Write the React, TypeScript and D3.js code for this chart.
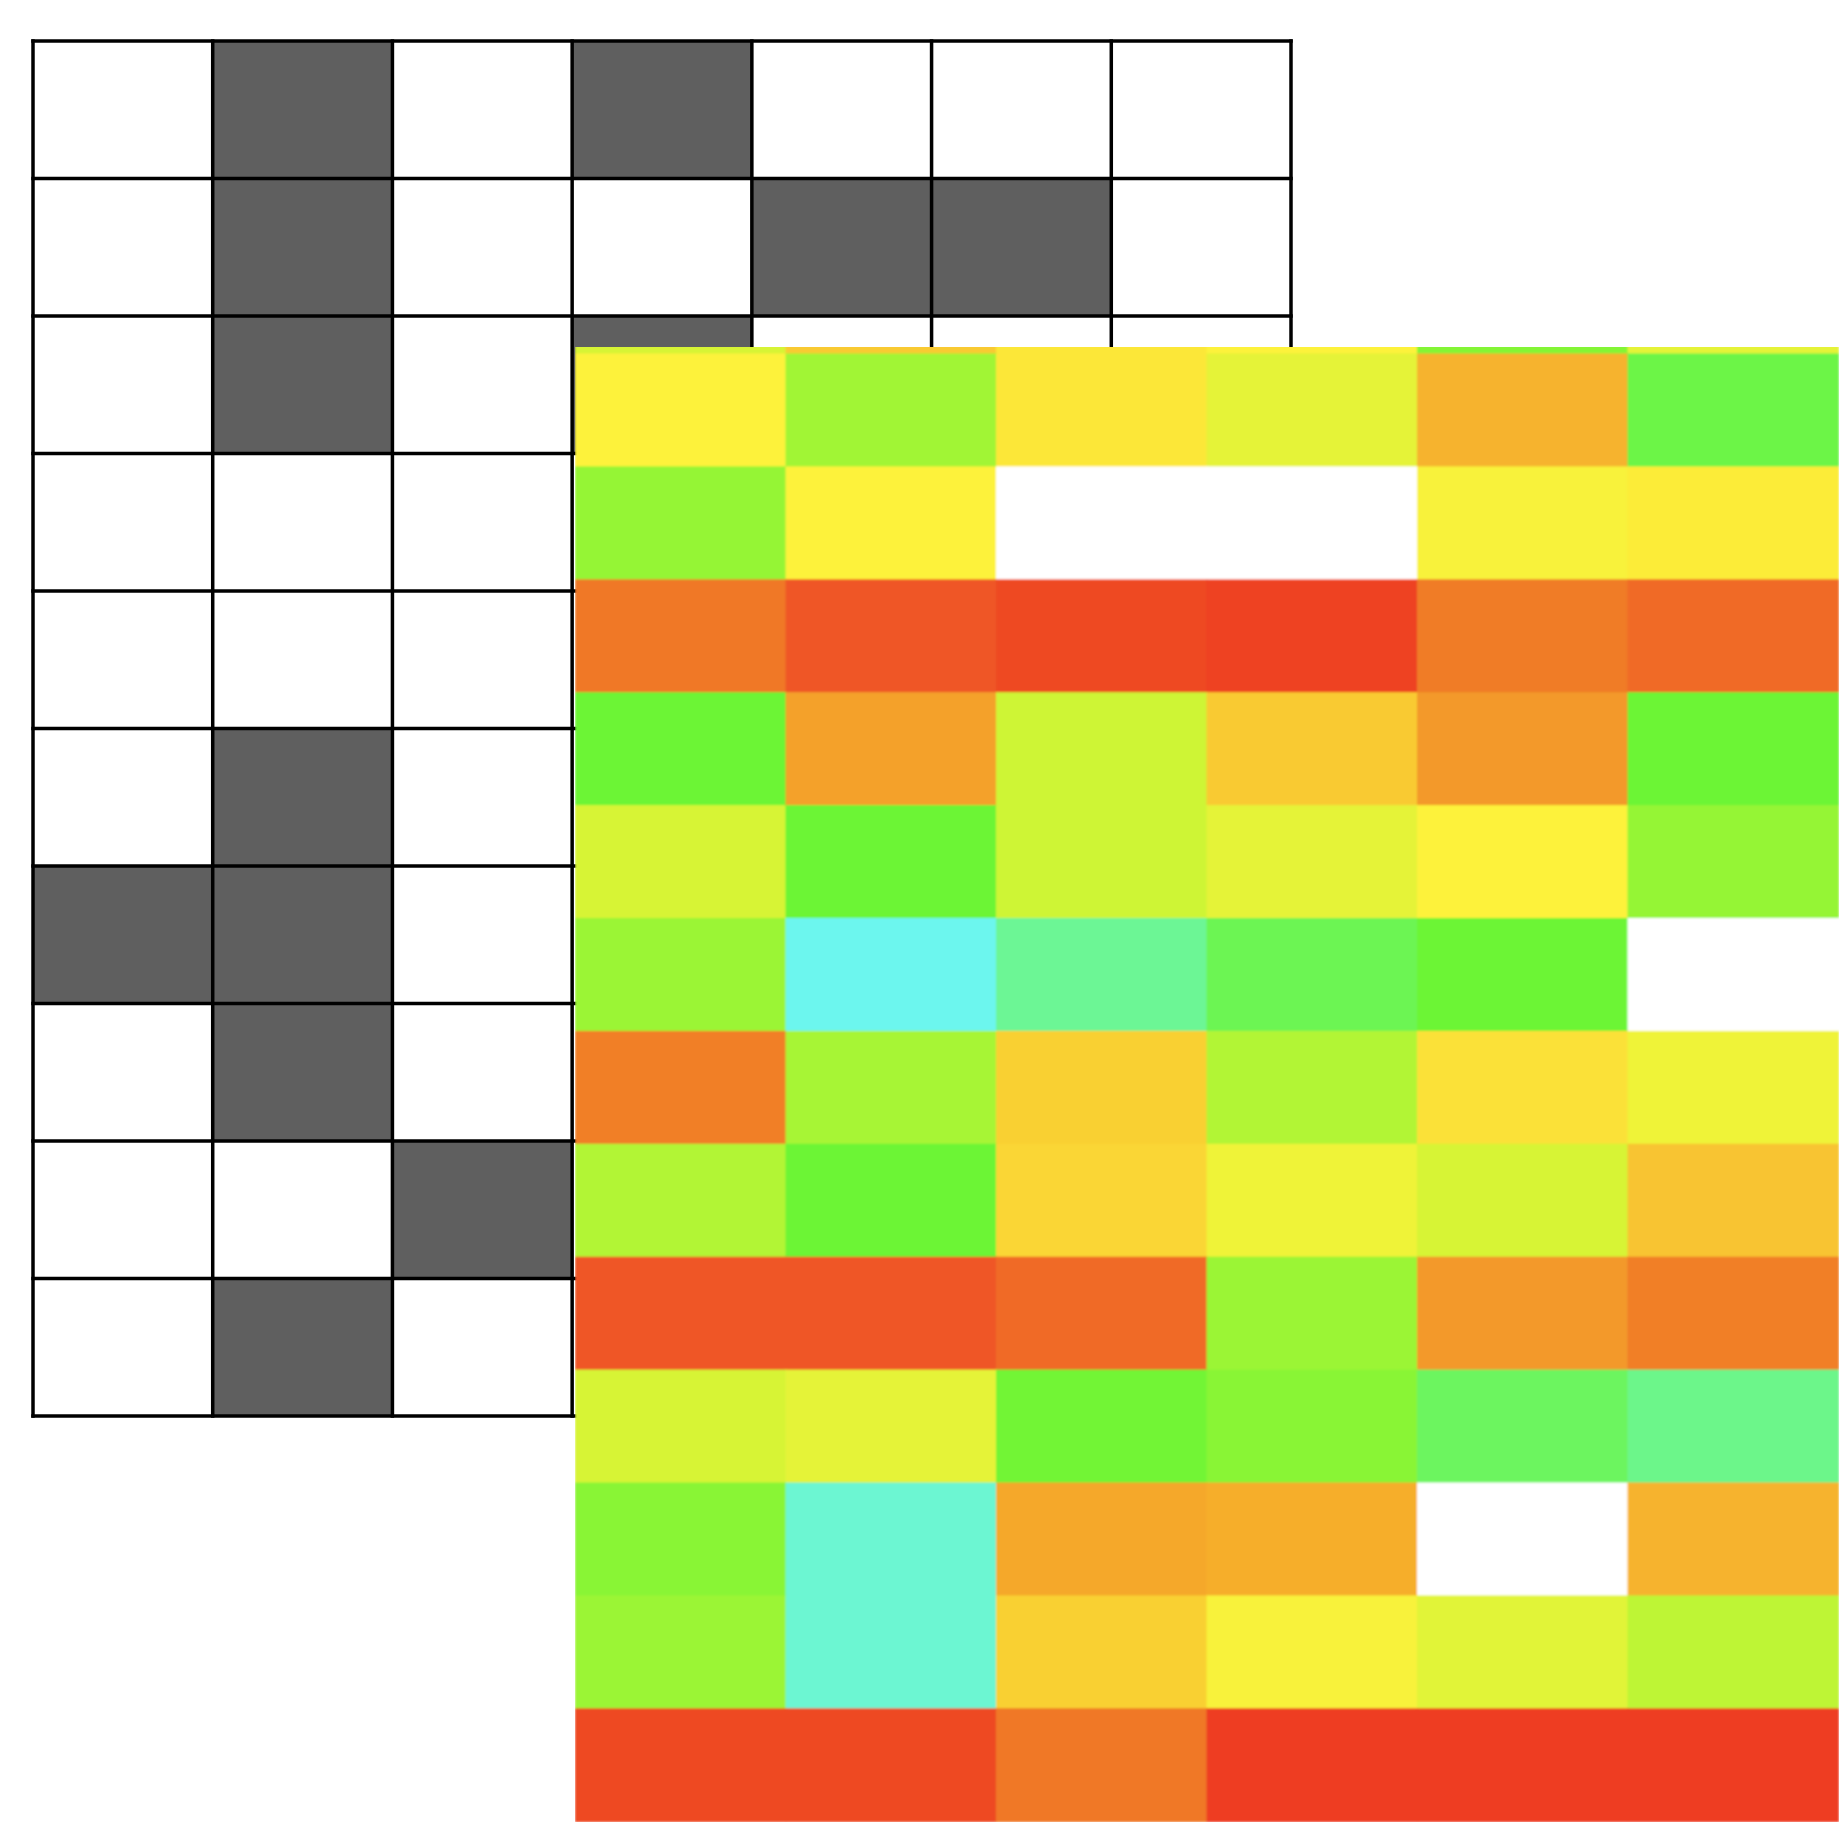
import React, { useEffect, useRef } from "react";
import * as d3 from "d3";

// shaded cells of the outline grid (1 = dark)
const maskRows = [
  [0, 1, 0, 1, 0, 0, 0],
  [0, 1, 0, 0, 1, 1, 0],
  [0, 1, 0, 1, 0, 0, 0],
  [0, 0, 0, 0, 0, 0, 0],
  [0, 0, 0, 0, 0, 0, 0],
  [0, 1, 0, 0, 0, 0, 0],
  [1, 1, 0, 0, 0, 0, 0],
  [0, 1, 0, 0, 0, 0, 0],
  [0, 0, 1, 0, 0, 0, 0],
  [0, 1, 0, 0, 0, 0, 0],
];

// heatmap values (null = empty cell). first row is mostly cut off at the top
const heatValues = [
  [54, 69, 64, 62, 39, 57],
  [62, 44, 64, 57, 73, 32],
  [42, 62, null, null, 61, 63],
  [88, 95, 98, 99, 87, 91],
  [35, 77, 52, 69, 79, 35],
  [54, 35, 52, 57, 62, 42],
  [43, 0, 19, 30, 35, null],
  [86, 45, 68, 47, 65, 59],
  [47, 35, 67, 59, 54, 70],
  [95, 95, 91, 43, 79, 86],
  [54, 57, 36, 40, 28, 21],
  [40, 6, 75, 74, null, 73],
  [43, 6, 68, 61, 56, 49],
  [98, 98, 88, 100, 100, 100],
];

const colorStops = [0, 20, 35, 50, 62, 75, 88, 100];
const colorRange = ["#6cf6ee", "#6cf690", "#6cf534", "#c4f534", "#fdf23a", "#f5a82b", "#f07828", "#ee3e22"];

const W = 1844;
const H = 1830;

export default function App() {
  const ref = useRef<SVGSVGElement>(null);

  useEffect(() => {
    const svg = d3.select(ref.current);
    svg.selectAll("*").remove();

    // outline grid
    const gx = d3.scaleBand<number>().domain(d3.range(7)).range([33, 1291]);
    const gy = d3.scaleBand<number>().domain(d3.range(maskRows.length)).range([41, 1416]);

    const cells = maskRows.flatMap((row, r) => row.map((v, c) => ({ r, c, v })));
    const grid = svg.append("g");
    grid
      .selectAll("rect")
      .data(cells)
      .join("rect")
      .attr("x", (d) => gx(d.c)!)
      .attr("y", (d) => gy(d.r)!)
      .attr("width", gx.bandwidth())
      .attr("height", gy.bandwidth())
      .attr("fill", (d) => (d.v ? "#5f5f5f" : "#ffffff"));

    const xEdges = d3.range(8).map((i) => (i < 7 ? gx(i)! : gx(6)! + gx.bandwidth()));
    const yEdges = d3.range(maskRows.length + 1).map((i) =>
      i < maskRows.length ? gy(i)! : gy(maskRows.length - 1)! + gy.bandwidth()
    );
    const sw = 3.5;
    grid
      .selectAll("line.v")
      .data(xEdges)
      .join("line")
      .attr("class", "v")
      .attr("x1", (d) => d)
      .attr("x2", (d) => d)
      .attr("y1", 41 - sw / 2)
      .attr("y2", 1416 + sw / 2)
      .attr("stroke", "#000")
      .attr("stroke-width", sw);
    grid
      .selectAll("line.h")
      .data(yEdges)
      .join("line")
      .attr("class", "h")
      .attr("x1", 33 - sw / 2)
      .attr("x2", 1291 + sw / 2)
      .attr("y1", (d) => d)
      .attr("y2", (d) => d)
      .attr("stroke", "#000")
      .attr("stroke-width", sw);

    // heatmap
    const color = d3.scaleLinear<string>().domain(colorStops).range(colorRange).clamp(true);
    const rowH = 112.9;
    const hx = d3.scaleBand<number>().domain(d3.range(6)).range([575.5, 1838.5]);
    const hy = d3
      .scaleBand<number>()
      .domain(d3.range(heatValues.length))
      .range([354 - rowH, 354 + (heatValues.length - 1) * rowH]);

    const defs = svg.append("defs");
    defs
      .append("clipPath")
      .attr("id", "heat-clip")
      .append("rect")
      .attr("x", 575)
      .attr("y", 347)
      .attr("width", 1839 - 575)
      .attr("height", 1822 - 347);
    defs
      .append("filter")
      .attr("id", "soft")
      .append("feGaussianBlur")
      .attr("stdDeviation", 1.3);

    const heatCells = heatValues.flatMap((row, r) => row.map((v, c) => ({ r, c, v })));
    svg
      .append("g")
      .attr("clip-path", "url(#heat-clip)")
      .append("g")
      .attr("filter", "url(#soft)")
      .selectAll("rect")
      .data(heatCells)
      .join("rect")
      .attr("x", (d) => hx(d.c)! - 0.5)
      .attr("y", (d) => hy(d.r)! - 0.5)
      .attr("width", hx.bandwidth() + 1)
      .attr("height", hy.bandwidth() + 1)
      .attr("fill", (d) => (d.v == null ? "#ffffff" : color(d.v)));
  }, []);

  return (
    <svg
      ref={ref}
      width={W}
      height={H}
      style={{ position: "absolute", left: 0, top: 0, background: "#fff" }}
    />
  );
}
